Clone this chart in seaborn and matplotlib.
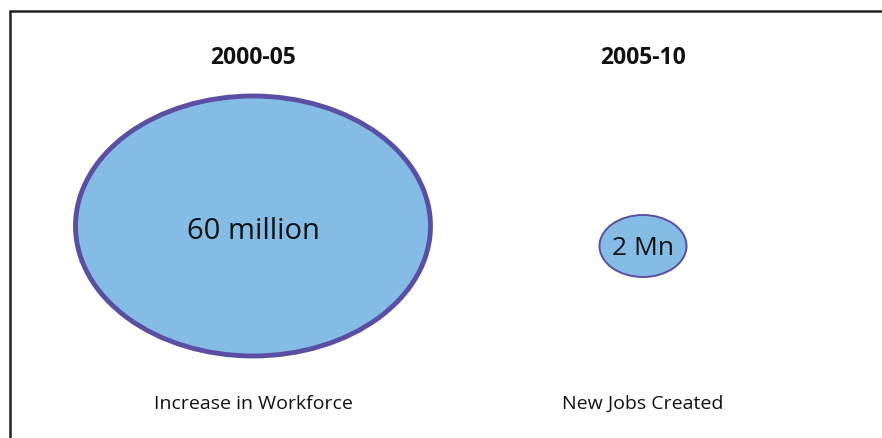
import matplotlib
matplotlib.use("Agg")
import matplotlib.pyplot as plt
from matplotlib.patches import Ellipse
import seaborn as sns
import pandas as pd

periods = ["2000-05", "2005-10"]
value_labels = ["60 million", "2 Mn"]
captions = ["Increase in Workforce", "New Jobs Created"]
values_mn = [60, 2]

sns.set_theme(style="white")
plt.rcParams['font.family'] = ['Open Sans', 'DejaVu Sans']

fig = plt.figure(figsize=(8.82, 4.39), dpi=100)
ax = fig.add_axes([0, 0, 1, 1])
ax.set_xlim(0, 882)
ax.set_ylim(439, 0)
ax.set_axis_off()

df = pd.DataFrame({"period": periods, "label": value_labels,
                   "caption": captions, "value": values_mn})

# layout (pixel positions)
centers = [(253, 227), (643, 247)]
sizes = [(355, 260), (87, 62)]
edge_w = [3.5, 1.4]
label_dy = [5, 2]

for i, row in df.iterrows():
    cx, cy = centers[i]
    w, h = sizes[i]
    e = Ellipse((cx, cy), w, h, facecolor="#85bce5", edgecolor="#5a4fa2",
                linewidth=edge_w[i], zorder=2)
    ax.add_patch(e)
    ax.text(cx, 58, row["period"], ha="center", va="center",
            fontsize=16.5, fontweight="bold", color="#111111")
    ax.text(cx, cy + label_dy[i], row["label"], ha="center", va="center",
            fontsize=[21, 19][i], color="#111111", zorder=3)
    ax.text(cx, 404, row["caption"], ha="center", va="center",
            fontsize=14, color="#111111")

# frame lines (left and top)
sns.lineplot(x=[10, 10], y=[439, 12], ax=ax, color="#222222", linewidth=1.8,
             sort=False, estimator=None)
sns.lineplot(x=[10, 882], y=[12, 12], ax=ax, color="#222222", linewidth=1.8,
             sort=False, estimator=None)
ax.set_xlim(0, 882)
ax.set_ylim(439, 0)

fig.savefig("out.png", dpi=100)
